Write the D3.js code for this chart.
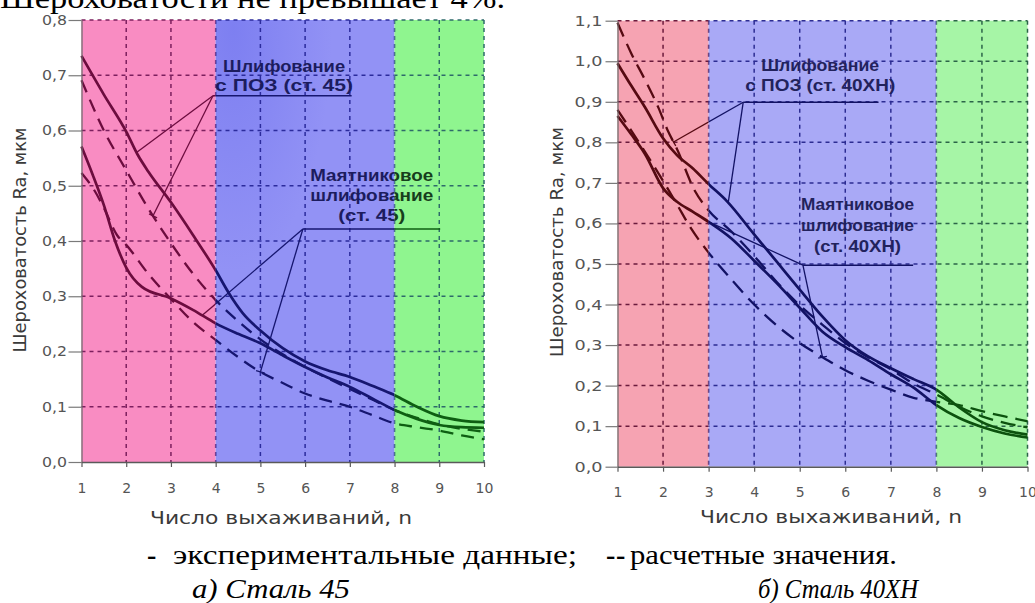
<!DOCTYPE html>
<html lang="ru">
<head>
<meta charset="utf-8">
<title>Шероховатость Ra в зависимости от числа выхаживаний</title>
<script src="https://cdn.jsdelivr.net/npm/d3@7/dist/d3.min.js"></script>
<style>
  html, body { margin: 0; padding: 0; background: #fff; }
  svg { display: block; }
  .serif { font-family: 'Liberation Serif', 'Times New Roman', serif; }
</style>
</head>
<body>
<svg id="fig" width="1035" height="603" xmlns="http://www.w3.org/2000/svg"></svg>
<script>
// ---- axes ----
const nTicks = [1, 2, 3, 4, 5, 6, 7, 8, 9, 10];
const raTicks45 = [0, 0.1, 0.2, 0.3, 0.4, 0.5, 0.6, 0.7, 0.8];
const raTicks40 = [0, 0.1, 0.2, 0.3, 0.4, 0.5, 0.6, 0.7, 0.8, 0.9, 1.0, 1.1];

// stage boundaries (число выхаживаний)
const stages45 = [1, 4, 8, 10];
const stages40 = [1, 3, 8, 10];

// ---- Сталь 45 ----
// шлифование с ПОЗ, эксперимент
const n45PozExp  = [1, 1.5, 2, 2.25, 2.5, 3, 3.5, 4, 4.3, 4.6, 5, 5.5, 6, 6.5, 7, 7.5, 8, 8.5, 9, 9.5, 10];
const ra45PozExp = [0.735, 0.665, 0.598, 0.557, 0.525, 0.47, 0.41, 0.347, 0.305, 0.27, 0.238, 0.206, 0.182, 0.166, 0.154, 0.138, 0.121, 0.1, 0.083, 0.075, 0.072];
// маятниковое шлифование, эксперимент
const n45OscExp  = [1, 1.25, 1.5, 1.75, 2, 2.35, 3, 3.5, 4, 4.5, 5, 5.5, 6, 6.5, 7, 7.5, 8, 8.5, 9, 9.5, 10];
const ra45OscExp = [0.571, 0.52, 0.465, 0.4, 0.352, 0.317, 0.296, 0.275, 0.251, 0.232, 0.215, 0.193, 0.172, 0.153, 0.136, 0.115, 0.094, 0.078, 0.067, 0.063, 0.062];
// шлифование с ПОЗ, расчёт
const n45PozCalc  = [1, 1.5, 2, 2.5, 3, 3.5, 4, 4.5, 5, 5.5, 6, 6.5, 7, 7.5, 8, 8.5, 9, 9.5, 10];
const ra45PozCalc = [0.691, 0.6, 0.528, 0.458, 0.396, 0.34, 0.293, 0.255, 0.222, 0.195, 0.172, 0.152, 0.132, 0.113, 0.094, 0.08, 0.068, 0.06, 0.055];
// маятниковое шлифование, расчёт
const n45OscCalc  = [1, 1.3, 1.5, 1.8, 2, 2.5, 3, 3.5, 4, 4.5, 5, 5.5, 6, 6.5, 7, 7.5, 8, 8.5, 9, 9.5, 10];
const ra45OscCalc = [0.523, 0.49, 0.46, 0.41, 0.393, 0.34, 0.295, 0.253, 0.221, 0.19, 0.163, 0.143, 0.124, 0.111, 0.1, 0.085, 0.07, 0.063, 0.057, 0.048, 0.041];

// ---- Сталь 40ХН ----
const n40PozExp  = [1, 1.3, 1.6, 2, 2.3, 2.65, 3, 3.4, 4, 4.5, 5, 5.5, 6, 6.5, 7, 7.5, 8, 8.5, 9, 9.5, 10];
const ra40PozExp = [0.995, 0.94, 0.887, 0.81, 0.769, 0.736, 0.697, 0.655, 0.573, 0.505, 0.437, 0.37, 0.312, 0.272, 0.243, 0.216, 0.19, 0.146, 0.11, 0.09, 0.079];
const n40OscExp  = [1, 1.3, 1.6, 2, 2.3, 2.65, 3, 3.5, 4, 4.5, 5, 5.5, 6, 6.5, 7, 7.5, 8, 8.5, 9, 9.5, 10];
const ra40OscExp = [0.865, 0.82, 0.772, 0.687, 0.654, 0.629, 0.604, 0.563, 0.508, 0.452, 0.392, 0.333, 0.295, 0.263, 0.228, 0.195, 0.152, 0.12, 0.098, 0.082, 0.072];
const n40PozCalc  = [1, 1.3, 1.6, 1.9, 2.1, 2.3, 2.7, 3, 3.5, 4, 4.5, 5, 5.5, 6, 6.5, 7, 7.5, 8, 8.5, 9, 9.5, 10];
const ra40PozCalc = [1.095, 1.02, 0.955, 0.885, 0.83, 0.785, 0.68, 0.632, 0.58, 0.52, 0.455, 0.398, 0.35, 0.305, 0.27, 0.24, 0.205, 0.178, 0.148, 0.124, 0.108, 0.097];
const n40OscCalc  = [1, 1.5, 2, 2.3, 2.6, 3, 3.5, 4, 4.5, 5, 5.5, 6, 6.5, 7, 7.5, 8, 8.5, 9, 9.5, 10];
const ra40OscCalc = [0.88, 0.795, 0.705, 0.648, 0.59, 0.528, 0.462, 0.4, 0.348, 0.305, 0.27, 0.238, 0.212, 0.19, 0.17, 0.16, 0.152, 0.137, 0.124, 0.112];

// ---- drawing ----
const svg = d3.select('#fig');
const defs = svg.append('defs');
const fmtRa = d => d3.format('.1f')(d).replace('.', ',');
const SANS = "'DejaVu Sans', Verdana, sans-serif";
const ARIAL = "'Liberation Sans', Arial, sans-serif";

// soft darker patch in the upper-left of a band
const shade = defs.append('radialGradient').attr('id', 'bandShade')
  .attr('cx', 0.1).attr('cy', 0.02).attr('r', 0.55);
shade.append('stop').attr('offset', 0).attr('stop-color', '#6468ec').attr('stop-opacity', 0.45);
shade.append('stop').attr('offset', 1).attr('stop-color', '#6468ec').attr('stop-opacity', 0);

// linear interpolation along a series
function raAt(s, t) {
  const i = Math.max(1, Math.min(s.n.length - 1, d3.bisectLeft(s.n, t)));
  const a = s.n[i - 1], b = s.n[i];
  return s.ra[i - 1] + (s.ra[i] - s.ra[i - 1]) * (t - a) / (b - a);
}

function drawPanel(p) {
  const x = d3.scaleLinear().domain([1, 10]).range(p.xRange);
  const y = d3.scaleLinear().domain([0, p.yMax]).range(p.yRange);
  const top = y(p.yMax), bottom = y(0), left = x(1), right = x(10);
  const root = svg.append('g');
  const spans = d3.pairs(p.stages);

  // coloured stage bands + a clip for each band
  spans.forEach(([a, b], i) => {
    root.append('rect')
      .attr('x', x(a)).attr('y', top)
      .attr('width', x(b) - x(a)).attr('height', bottom - top)
      .attr('fill', p.fills[i]);
    if (p.shadeBand === i) {
      root.append('rect')
        .attr('x', x(a)).attr('y', top)
        .attr('width', x(b) - x(a)).attr('height', bottom - top)
        .attr('fill', 'url(#bandShade)');
    }
    const c0 = i === 0 ? x(a) - 10 : x(a);
    const c1 = i === spans.length - 1 ? x(b) + 10 : x(b);
    defs.append('clipPath').attr('id', `${p.id}-s${i}`)
      .append('rect').attr('x', c0).attr('y', 0).attr('width', c1 - c0).attr('height', 603);
  });

  const line = d3.line().x(d => x(d[0])).y(d => y(d[1])).curve(d3.curveMonotoneX);

  // grid, curves and callouts take the tint of the band they cross
  spans.forEach((_, i) => {
    const ink = root.append('g').attr('clip-path', `url(#${p.id}-s${i})`);
    const gc = p.grid[i], lc = p.ink[i];

    ink.selectAll(null).data(p.yTicks.filter(v => v > 0)).join('line')
      .attr('x1', left).attr('x2', right)
      .attr('y1', d => y(d)).attr('y2', d => y(d))
      .attr('stroke', gc).attr('stroke-width', 1.5).attr('stroke-dasharray', '4,4');
    ink.selectAll(null).data(nTicks.filter(n => n > 1)).join('line')
      .attr('x1', d => x(d)).attr('x2', d => x(d))
      .attr('y1', top).attr('y2', bottom)
      .attr('stroke', gc).attr('stroke-width', 1.5).attr('stroke-dasharray', '4,4');

    p.series.forEach(s => {
      ink.append('path')
        .attr('d', line(d3.zip(s.n, s.ra)))
        .attr('fill', 'none').attr('stroke', lc)
        .attr('stroke-width', s.dashed ? 2.3 : 2.7)
        .attr('stroke-dasharray', s.dashed ? p.dash : null)
        .attr('stroke-linejoin', 'round');
    });

    p.notes.forEach(note => {
      const ax = x(note.from[0]), ay = y(note.from[1]);
      ink.append('line')
        .attr('x1', ax).attr('y1', ay).attr('x2', x(note.ruleTo)).attr('y2', ay)
        .attr('stroke', lc).attr('stroke-width', 1.6);
      note.targets.forEach(t => {
        const tx = x(t.n), ty = y(raAt(t.s, t.n));
        ink.append('line')
          .attr('x1', ax).attr('y1', ay).attr('x2', tx).attr('y2', ty)
          .attr('stroke', lc).attr('stroke-width', 1.3);
        if (t.tick) {
          const dx = tx - ax, dy = ty - ay, L = Math.hypot(dx, dy);
          const ux = -dy / L * 4.5, uy = dx / L * 4.5;
          ink.append('line')
            .attr('x1', tx - ux).attr('y1', ty - uy).attr('x2', tx + ux).attr('y2', ty + uy)
            .attr('stroke', lc).attr('stroke-width', 1.3);
        }
      });
      note.lines.forEach(l => {
        ink.append('text')
          .attr('x', x(note.cx)).attr('y', ay + l.dy)
          .attr('text-anchor', 'middle')
          .attr('font-family', ARIAL).attr('font-weight', 'bold').attr('font-size', 16.5)
          .attr('fill', p.text[i])
          .attr('textLength', l.w).attr('lengthAdjust', 'spacingAndGlyphs')
          .text(l.t);
      });
    });
  });

  // axes
  const yAxis = root.append('g').attr('transform', `translate(${left},0)`)
    .call(d3.axisLeft(y).tickValues(p.yTicks).tickFormat(fmtRa)
      .tickSize(p.yTickLen).tickSizeOuter(0).tickPadding(p.yTickPad));
  yAxis.select('.domain').attr('stroke', '#6a6a6a').attr('stroke-width', 1.2);
  yAxis.selectAll('.tick line').attr('stroke', '#7a7a7a').attr('stroke-width', 1.2);
  yAxis.selectAll('.tick text')
    .attr('font-family', SANS).attr('font-size', 14).attr('fill', '#555')
    .attr('textLength', p.yTickW).attr('lengthAdjust', 'spacingAndGlyphs');

  const xAxis = root.append('g').attr('transform', `translate(0,${bottom})`)
    .call(d3.axisBottom(x).tickValues(nTicks).tickFormat(d3.format('d'))
      .tickSize(5).tickSizeOuter(0).tickPadding(p.xTickPad));
  xAxis.select('.domain').attr('stroke', '#5a5a5a').attr('stroke-width', 1.6);
  xAxis.selectAll('.tick line').attr('stroke', '#5a5a5a').attr('stroke-width', 1.2);
  xAxis.selectAll('.tick text')
    .attr('font-family', SANS).attr('font-size', 14).attr('fill', '#555');

  // axis titles
  root.append('text')
    .attr('x', p.xTitle[0]).attr('y', p.xTitle[1]).attr('text-anchor', 'middle')
    .attr('font-family', SANS).attr('font-size', 17).attr('fill', '#3a3a3a')
    .attr('textLength', 262).attr('lengthAdjust', 'spacingAndGlyphs')
    .text('Число выхаживаний, n');
  root.append('text')
    .attr('transform', `translate(${p.yTitle[0]},${p.yTitle[1]}) rotate(-90)`)
    .attr('text-anchor', 'middle').attr('dy', '0.35em')
    .attr('font-family', SANS).attr('font-size', 17).attr('fill', '#3a3a3a')
    .attr('textLength', p.yTitle[2]).attr('lengthAdjust', 'spacingAndGlyphs')
    .text('Шероховатость Ra, мкм');
}

const s45 = {
  pozExp:  { n: n45PozExp,  ra: ra45PozExp },
  oscExp:  { n: n45OscExp,  ra: ra45OscExp },
  pozCalc: { n: n45PozCalc, ra: ra45PozCalc, dashed: true },
  oscCalc: { n: n45OscCalc, ra: ra45OscCalc, dashed: true }
};
const s40 = {
  pozExp:  { n: n40PozExp,  ra: ra40PozExp },
  oscExp:  { n: n40OscExp,  ra: ra40OscExp },
  pozCalc: { n: n40PozCalc, ra: ra40PozCalc, dashed: true },
  oscCalc: { n: n40OscCalc, ra: ra40OscCalc, dashed: true }
};

drawPanel({
  id: 'st45', xRange: [81.5, 484], yRange: [462, 20], yMax: 0.8, yTicks: raTicks45,
  stages: stages45, shadeBand: 1,
  fills: ['#f98cc2', '#9292f5', '#8ff58f'],
  grid:  ['#7c1f5e', '#2b2b9c', '#2d6a6a'],
  ink:   ['#6c0c3e', '#161670', '#0e5e12'],
  text:  ['#6c0c3e', '#1c1c5e', '#173e1c'],
  dash: '13,8',
  series: [s45.pozExp, s45.oscExp, s45.pozCalc, s45.oscCalc],
  notes: [
    { from: [3.94, 0.663], ruleTo: 7.04, cx: 5.53,
      lines: [{ t: 'Шлифование', dy: -23.5, w: 122 }, { t: 'с ПОЗ (ст. 45)', dy: -5, w: 138 }],
      targets: [{ s: s45.pozExp, n: 2.23 }, { s: s45.pozCalc, n: 2.6, tick: true }] },
    { from: [5.95, 0.4217], ruleTo: 9.02, cx: 7.49,
      lines: [{ t: 'Маятниковое', dy: -48, w: 123 }, { t: 'шлифование', dy: -28, w: 123 }, { t: '(ст. 45)', dy: -8, w: 67 }],
      targets: [{ s: s45.oscExp, n: 3.7 }, { s: s45.oscCalc, n: 5.0, tick: true }] }
  ],
  yTickLen: 13, yTickPad: 1.5, yTickW: 25, xTickPad: 16,
  xTitle: [281, 524], yTitle: [20, 240, 225]
});

drawPanel({
  id: 'st40', xRange: [617.5, 1027.5], yRange: [466.7, 20.7], yMax: 1.1, yTicks: raTicks40,
  stages: stages40,
  fills: ['#f6a3b2', '#a9a9f6', '#a6f5a6'],
  grid:  ['#6a1a3c', '#2c2c92', '#2b6448'],
  ink:   ['#560a12', '#121264', '#0c520e'],
  text:  ['#560a12', '#22225c', '#173e1c'],
  dash: '15,8',
  series: [s40.pozExp, s40.oscExp, s40.pozCalc, s40.oscCalc],
  notes: [
    { from: [3.76, 0.899], ruleTo: 6.73, cx: 5.45,
      lines: [{ t: 'Шлифование', dy: -31.3, w: 118 }, { t: 'с ПОЗ (ст. 40ХН)', dy: -11.3, w: 150 }],
      targets: [{ s: s40.pozCalc, n: 2.23, tick: true }, { s: s40.pozExp, n: 3.43 }] },
    { from: [5.07, 0.497], ruleTo: 7.49, cx: 6.27,
      lines: [{ t: 'Маятниковое', dy: -55, w: 113 }, { t: 'шлифование', dy: -34, w: 113 }, { t: '(ст. 40ХН)', dy: -13, w: 87 }],
      targets: [{ s: s40.oscExp, n: 3.0 }, { s: s40.oscCalc, n: 5.5, tick: true }] }
  ],
  yTickLen: 12, yTickPad: 3, yTickW: 28, xTickPad: 15.3,
  xTitle: [831, 523], yTitle: [557, 242, 230]
});

// running text around the figure
const page = svg.append('g').attr('fill', '#000');
function serifText(xp, yp, size, str, opts = {}) {
  const t = page.append('text').attr('class', 'serif')
    .attr('x', xp).attr('y', yp).attr('font-size', size).text(str);
  if (opts.w) t.attr('textLength', opts.w).attr('lengthAdjust', 'spacingAndGlyphs');
  if (opts.bold) t.attr('font-weight', 'bold');
  if (opts.italic) t.attr('font-style', 'italic');
  return t;
}

serifText(0, 8, 30, 'Шероховатости не превышает 4%.', { w: 505 });

const legendY = 564;
serifText(147, legendY, 28, '-', { bold: true });
serifText(173, legendY, 28, 'экспериментальные данные;', { w: 404 });
serifText(606, legendY, 28, '-', { bold: true });
serifText(616, legendY, 28, '-', { bold: true });
serifText(630, legendY, 28, 'расчетные значения.', { w: 267 });

serifText(192, 598, 28, 'а) Сталь 45', { italic: true, w: 158 });
serifText(758, 598, 27, 'б) Сталь 40ХН', { italic: true, w: 160 });
</script>
</body>
</html>
